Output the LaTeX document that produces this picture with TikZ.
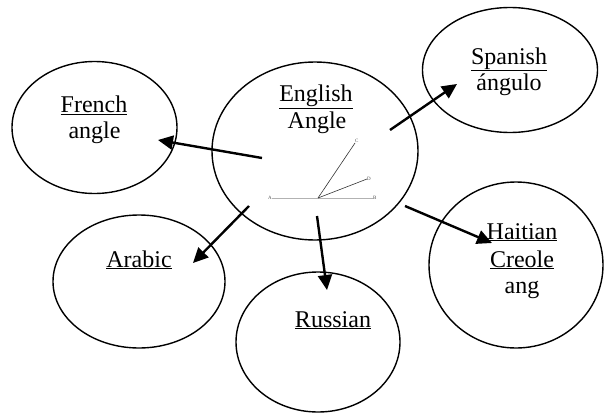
\documentclass[tikz,border=0pt]{standalone}
\usepackage{fontspec}
\setmainfont{Liberation Serif}
\usetikzlibrary{shapes.geometric,arrows.meta}
\tikzset{
	lang/.style={draw, ellipse, line width=1.4pt, inner sep=0pt},
	lbl/.style={anchor=base, inner sep=0pt, font=\fontsize{24}{28}\selectfont},
	mini/.style={inner sep=0pt, font=\fontsize{5}{6}\selectfont, text=black!70},
	fleche/.style={line width=2.4pt, -{Triangle[length=15pt,width=14pt]}},
}
\begin{document}
\begin{tikzpicture}[x=1pt, y=-1pt]
		\useasboundingbox (0,0) rectangle (605,415);
		%Bulles
		\node[lang, minimum width=206pt, minimum height=178pt] (English) at (315,151) {};
		\node[lang, minimum width=165pt, minimum height=132pt] (French) at (94.5,127.5) {};
		\node[lang, minimum width=175pt, minimum height=125pt] (Spanish) at (510,70) {};
		\node[lang, minimum width=174pt, minimum height=166pt] (Haitian) at (516,265) {};
		\node[lang, minimum width=172pt, minimum height=133pt] (Arabic) at (139,281.5) {};
		\node[lang, minimum width=164pt, minimum height=140pt] (Russian) at (318,342) {};
		%Textes
		\node[lbl] (EnglishT) at (316,101.7) {\underline{English}};
		\node[lbl] (EnglishW) at (317,128) {Angle};
		\node[lbl] (FrenchT) at (94,112.7) {\underline{French}};
		\node[lbl] (FrenchW) at (94.5,138.5) {angle};
		\node[lbl] (SpanishT) at (509,64) {\underline{Spanish}};
		\node[lbl] (SpanishW) at (509,90.5) {ángulo};
		\node[lbl] (HaitianT) at (522,239) {\underline{Haitian}};
		\node[lbl] (HaitianT2) at (522,267) {\underline{Creole}};
		\node[lbl] (HaitianW) at (522,293) {ang};
		\node[lbl] (ArabicT) at (139,267) {\underline{Arabic}};
		\node[lbl] (RussianT) at (333,327) {\underline{Russian}};
		%Figure de l'angle
		\coordinate (O) at (318,198);
		\coordinate (Ap) at (272,198);
		\coordinate (Bp) at (373,198);
		\coordinate (Cp) at (355,143);
		\coordinate (Dp) at (367,179);
		\draw[black!30, line width=0.5pt] (Ap) -- (Bp);
		\draw[black!80, line width=0.6pt] (O) -- (Cp);
		\draw[black!80, line width=0.6pt] (O) -- (Dp);
		\node[mini, left] (A) at (Ap) {A};
		\node[mini, right] (B) at (Bp) {B};
		\node[mini, above right] (C) at (Cp) {C};
		\node[mini, right] (D) at (Dp) {D};
		%Fleches
		\coordinate (sFr) at (262,158);
		\coordinate (pFr) at (158,140);
		\coordinate (sSp) at (390,130);
		\coordinate (pSp) at (457,84);
		\coordinate (sHa) at (405,206);
		\coordinate (pHa) at (492,243);
		\coordinate (sAr) at (249,206);
		\coordinate (pAr) at (193,263);
		\coordinate (sRu) at (317,216);
		\coordinate (pRu) at (327,290);
		\draw[fleche] (sFr) -- (pFr);
		\draw[fleche] (sSp) -- (pSp);
		\draw[fleche] (sHa) -- (pHa);
		\draw[fleche] (sAr) -- (pAr);
		\draw[fleche] (sRu) -- (pRu);
\end{tikzpicture}
\end{document}
